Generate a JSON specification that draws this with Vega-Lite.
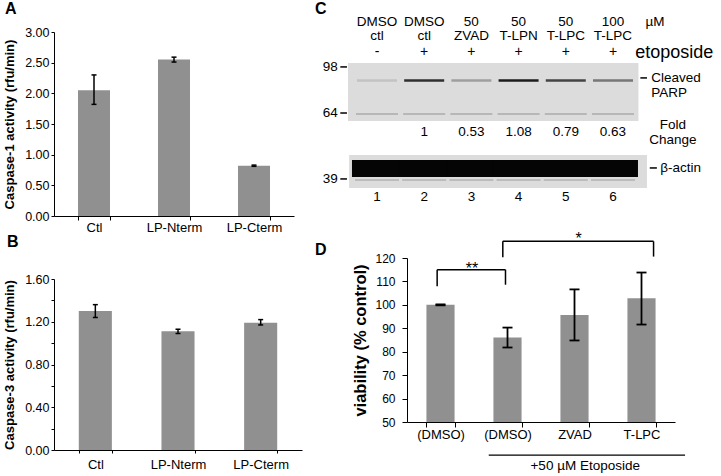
{
  "$schema": "https://vega.github.io/schema/vega-lite/v6.json",
  "padding": {"left": 3, "top": 0, "right": 3, "bottom": 3},
  "config": {
    "font": "Liberation Sans",
    "view": {"stroke": null},
    "axis": {"grid": false, "domainColor": "black", "tickColor": "black", "labelColor": "black", "titleColor": "black", "labelOverlap": false},
    "title": {"fontSize": 16, "fontWeight": "bold", "anchor": "start", "frame": "group", "baseline": "alphabetic", "color": "black"}
  },
  "datasets": {
    "casp1": [
      {"group": "Ctl", "activity": 2.05, "lo": 1.82, "hi": 2.30},
      {"group": "LP-Nterm", "activity": 2.55, "lo": 2.51, "hi": 2.59},
      {"group": "LP-Cterm", "activity": 0.82, "lo": 0.81, "hi": 0.83}
    ],
    "casp3": [
      {"group": "Ctl", "activity": 1.30, "lo": 1.24, "hi": 1.36},
      {"group": "LP-Nterm", "activity": 1.11, "lo": 1.09, "hi": 1.13},
      {"group": "LP-Cterm", "activity": 1.19, "lo": 1.17, "hi": 1.22}
    ],
    "viability": [
      {"group": "(DMSO)", "viability": 100.0, "lo": 99.8, "hi": 100.2},
      {"group": "(DMSO) ", "viability": 86.1, "lo": 81.8, "hi": 90.3},
      {"group": "ZVAD", "viability": 95.7, "lo": 84.8, "hi": 106.6},
      {"group": "T-LPC", "viability": 102.8, "lo": 91.6, "hi": 113.8}
    ],
    "brackets": [
      {"sig": "**", "from": 0.45, "to": 1.47, "top": 115.0, "fromEnd": 107.9, "toEnd": 108.6, "at": 0.97, "labelY": 113.2},
      {"sig": "*", "from": 1.43, "to": 3.68, "top": 127.1, "fromEnd": 120.3, "toEnd": 120.6, "at": 2.56, "labelY": 126.0}
    ],
    "groupLine": [
      {"note": "+50 µM Etoposide", "from": 1.22, "to": 4.15, "lineY": 35.9, "textAt": 2.66, "textY": 29.5}
    ],
    "lanes": [
      {"lane": 1, "dose": "DMSO", "agent": "ctl", "etoposide": "-", "fold": null, "parp": 0.12},
      {"lane": 2, "dose": "DMSO", "agent": "ctl", "etoposide": "+", "fold": 1, "parp": 0.85},
      {"lane": 3, "dose": "50", "agent": "ZVAD", "etoposide": "+", "fold": 0.53, "parp": 0.3},
      {"lane": 4, "dose": "50", "agent": "T-LPN", "etoposide": "+", "fold": 1.08, "parp": 0.95},
      {"lane": 5, "dose": "50", "agent": "T-LPC", "etoposide": "+", "fold": 0.79, "parp": 0.75},
      {"lane": 6, "dose": "100", "agent": "T-LPC", "etoposide": "+", "fold": 0.63, "parp": 0.5}
    ],
    "blots": [
      {"blot": "Cleaved PARP", "from": 0.386, "to": 6.54, "top": 18.9, "bottom": 54.3},
      {"blot": "β-actin", "from": 0.41, "to": 6.72, "top": 75.0, "bottom": 95.1}
    ],
    "markers": [
      {"kDa": 98, "pos": 21.3},
      {"kDa": 64, "pos": 49.4},
      {"kDa": 39, "pos": 89.6}
    ],
    "blotLabels": [
      {"label": "µM", "side": "center", "lx": 6.89, "ly": -6.1},
      {"label": "Fold", "side": "center", "lx": 7.27, "ly": 56.7},
      {"label": "Change", "side": "center", "lx": 7.27, "ly": 65.9},
      {"label": "Cleaved", "side": "left", "lx": 6.81, "ly": 28.0},
      {"label": "PARP", "side": "left", "lx": 6.81, "ly": 37.2},
      {"label": "β-actin", "side": "left", "lx": 7.0, "ly": 82.9}
    ],
    "pointers": [
      {"target": "Cleaved PARP", "from": 6.58, "to": 6.72, "at": 28.0},
      {"target": "β-actin", "from": 6.78, "to": 6.93, "at": 82.9}
    ],
    "treatment": [
      {"label": "etoposide", "lx": 6.47, "ly": 12.5}
    ]
  },
  "spacing": 13,
  "hconcat": [
    {
      "spacing": 0,
      "vconcat": [
        {
          "width": 240,
          "height": 184,
          "title": {"text": "A", "dx": -49, "offset": 9},
          "data": {"name": "casp1"},
          "encoding": {
            "x": {"field": "group", "type": "nominal", "sort": ["Ctl", "LP-Nterm", "LP-Cterm"], "scale": {"paddingInner": 0.6, "paddingOuter": 0.3},
              "axis": {"title": null, "labelAngle": 0, "labelFontSize": 13, "tickBand": "extent", "tickSize": 4, "labelPadding": 1}}
          },
          "layer": [
            {"mark": {"type": "bar", "color": "#909090"},
             "encoding": {"y": {"field": "activity", "type": "quantitative", "title": "Caspase-1 activity (rfu/min)", "scale": {"domain": [0, 3]},
               "axis": {"titleFontSize": 13, "titleFontWeight": "bold", "titlePadding": 8, "values": [0, 0.5, 1, 1.5, 2, 2.5, 3], "tickCount": 20, "format": ".2f", "labelFontSize": 12.5, "tickSize": 3, "labelPadding": 2, "labelOverlap": false}}}},
            {"mark": {"type": "rule", "color": "black", "strokeWidth": 1.5},
             "encoding": {"y": {"field": "lo", "type": "quantitative", "title": "Caspase-1 activity (rfu/min)"}, "y2": {"field": "hi"}}},
            {"mark": {"type": "tick", "color": "black", "opacity": 1, "thickness": 1.5, "size": 5},
             "encoding": {"y": {"field": "hi", "type": "quantitative", "title": "Caspase-1 activity (rfu/min)"}}},
            {"mark": {"type": "tick", "color": "black", "opacity": 1, "thickness": 1.5, "size": 5},
             "encoding": {"y": {"field": "lo", "type": "quantitative", "title": "Caspase-1 activity (rfu/min)"}}}
          ]
        },
        {
          "width": 248,
          "height": 171,
          "title": {"text": "B", "dx": -47, "offset": 23},
          "data": {"name": "casp3"},
          "encoding": {
            "x": {"field": "group", "type": "nominal", "sort": ["Ctl", "LP-Nterm", "LP-Cterm"], "scale": {"paddingInner": 0.6, "paddingOuter": 0.3},
              "axis": {"title": null, "labelAngle": 0, "labelFontSize": 13, "tickBand": "extent", "tickSize": 3, "labelPadding": 5}}
          },
          "layer": [
            {"mark": {"type": "bar", "color": "#909090"},
             "encoding": {"y": {"field": "activity", "type": "quantitative", "title": "Caspase-3 activity (rfu/min)", "scale": {"domain": [0, 1.6]},
               "axis": {"titleFontSize": 13, "titleFontWeight": "bold", "titlePadding": 8, "values": [0, 0.2, 0.4, 0.6, 0.8, 1.0, 1.2, 1.4, 1.6], "tickCount": 20,
                 "labelExpr": "round(datum.value * 10) % 4 == 0 ? format(datum.value, '.2f') : ''", "labelFontSize": 12.5, "tickSize": 3, "labelPadding": 2, "labelOverlap": false}}}},
            {"mark": {"type": "rule", "color": "black", "strokeWidth": 1.5},
             "encoding": {"y": {"field": "lo", "type": "quantitative", "title": "Caspase-3 activity (rfu/min)"}, "y2": {"field": "hi"}}},
            {"mark": {"type": "tick", "color": "black", "opacity": 1, "thickness": 1.5, "size": 5},
             "encoding": {"y": {"field": "hi", "type": "quantitative", "title": "Caspase-3 activity (rfu/min)"}}},
            {"mark": {"type": "tick", "color": "black", "opacity": 1, "thickness": 1.5, "size": 5},
             "encoding": {"y": {"field": "lo", "type": "quantitative", "title": "Caspase-3 activity (rfu/min)"}}}
          ]
        }
      ]
    },
    {
      "spacing": 26,
      "vconcat": [
        {
          "width": 300,
          "height": 164,
          "title": {"text": "C", "dx": -92, "offset": -2},
          "layer": [
            {"data": {"name": "blots"}, "mark": {"type": "rect", "color": "#dcdcdc"},
             "encoding": {
               "x": {"field": "from", "type": "quantitative", "scale": {"domain": [1.636, 7.992], "nice": false, "zero": false}, "axis": null},
               "x2": {"field": "to"},
               "y": {"field": "top", "type": "quantitative", "scale": {"domain": [0, 100], "reverse": true, "nice": false, "zero": false}, "axis": null},
               "y2": {"field": "bottom"}}},
            {"data": {"name": "lanes"}, "mark": {"type": "tick", "orient": "horizontal", "color": "#8a8a8a", "opacity": 0.45, "size": 42, "thickness": 2},
             "encoding": {"x": {"field": "lane", "type": "quantitative"}, "y": {"datum": 50.0, "type": "quantitative"}}},
            {"data": {"name": "lanes"}, "mark": {"type": "tick", "orient": "horizontal", "color": "#8a8a8a", "opacity": 0.5, "size": 44, "thickness": 1.5},
             "encoding": {"x": {"field": "lane", "type": "quantitative"}, "y": {"datum": 90.3, "type": "quantitative"}}},
            {"data": {"name": "lanes"}, "mark": {"type": "tick", "orient": "horizontal", "color": "#111111", "size": 40, "thickness": 2.5},
             "encoding": {"x": {"field": "lane", "type": "quantitative"}, "y": {"datum": 29.5, "type": "quantitative"},
               "opacity": {"field": "parp", "type": "quantitative", "scale": {"domain": [0, 1], "range": [0, 1]}, "legend": null}}},
            {"data": {"name": "lanes"}, "mark": {"type": "tick", "orient": "horizontal", "color": "#050505", "opacity": 1, "size": 50, "thickness": 17},
             "encoding": {"x": {"field": "lane", "type": "quantitative"}, "y": {"datum": 83.2, "type": "quantitative"}}},
            {"data": {"name": "markers"}, "mark": {"type": "rule", "color": "black", "strokeWidth": 1.5},
             "encoding": {"x": {"datum": 0.223, "type": "quantitative"}, "x2": {"datum": 0.364}, "y": {"field": "pos", "type": "quantitative"}}},
            {"data": {"name": "markers"}, "mark": {"type": "text", "align": "right", "baseline": "middle", "fontSize": 13.5},
             "encoding": {"x": {"datum": 0.17, "type": "quantitative"}, "y": {"field": "pos", "type": "quantitative"}, "text": {"field": "kDa", "type": "quantitative", "format": "d"}}},
            {"data": {"name": "lanes"}, "mark": {"type": "text", "align": "center", "baseline": "middle", "fontSize": 13.5},
             "encoding": {"x": {"field": "lane", "type": "quantitative"}, "y": {"datum": -6.1, "type": "quantitative"}, "text": {"field": "dose", "type": "nominal"}}},
            {"data": {"name": "lanes"}, "mark": {"type": "text", "align": "center", "baseline": "middle", "fontSize": 13.5},
             "encoding": {"x": {"field": "lane", "type": "quantitative"}, "y": {"datum": 2.7, "type": "quantitative"}, "text": {"field": "agent", "type": "nominal"}}},
            {"data": {"name": "lanes"}, "mark": {"type": "text", "align": "center", "baseline": "middle", "fontSize": 14},
             "encoding": {"x": {"field": "lane", "type": "quantitative"}, "y": {"datum": 12.2, "type": "quantitative"}, "text": {"field": "etoposide", "type": "nominal"}}},
            {"data": {"name": "lanes"}, "transform": [{"filter": "isValid(datum.fold)"}], "mark": {"type": "text", "align": "center", "baseline": "middle", "fontSize": 13.5},
             "encoding": {"x": {"field": "lane", "type": "quantitative"}, "y": {"datum": 61.0, "type": "quantitative"}, "text": {"field": "fold", "type": "quantitative", "format": ".2~f"}}},
            {"data": {"name": "lanes"}, "mark": {"type": "text", "align": "center", "baseline": "middle", "fontSize": 13.5},
             "encoding": {"x": {"field": "lane", "type": "quantitative"}, "y": {"datum": 100.6, "type": "quantitative"}, "text": {"field": "lane", "type": "quantitative", "format": "d"}}},
            {"data": {"name": "blotLabels"}, "transform": [{"filter": "datum.side == 'center'"}], "mark": {"type": "text", "align": "center", "baseline": "middle", "fontSize": 13.5},
             "encoding": {"x": {"field": "lx", "type": "quantitative"}, "y": {"field": "ly", "type": "quantitative"}, "text": {"field": "label", "type": "nominal"}}},
            {"data": {"name": "blotLabels"}, "transform": [{"filter": "datum.side == 'left'"}], "mark": {"type": "text", "align": "left", "baseline": "middle", "fontSize": 13.5},
             "encoding": {"x": {"field": "lx", "type": "quantitative"}, "y": {"field": "ly", "type": "quantitative"}, "text": {"field": "label", "type": "nominal"}}},
            {"data": {"name": "pointers"}, "mark": {"type": "rule", "color": "black", "strokeWidth": 1.5},
             "encoding": {"x": {"field": "from", "type": "quantitative"}, "x2": {"field": "to"}, "y": {"field": "at", "type": "quantitative"}}},
            {"data": {"name": "treatment"}, "mark": {"type": "text", "align": "left", "baseline": "middle", "fontSize": 18},
             "encoding": {"x": {"field": "lx", "type": "quantitative"}, "y": {"field": "ly", "type": "quantitative"}, "text": {"field": "label", "type": "nominal"}}}
          ]
        },
        {
          "width": 268,
          "height": 164,
          "title": {"text": "D", "dx": -92, "offset": -27},
          "resolve": {"scale": {"x": "independent"}, "axis": {"x": "independent"}},
          "layer": [
            {
              "data": {"name": "viability"},
              "encoding": {
                "x": {"field": "group", "type": "nominal", "sort": ["(DMSO)", "(DMSO) ", "ZVAD", "T-LPC"], "scale": {"paddingInner": 0.58, "paddingOuter": 0.29},
                  "axis": {"title": null, "labelAngle": 0, "labelFontSize": 13, "tickBand": "extent", "tickSize": 5, "labelPadding": 1}}
              },
              "layer": [
                {"mark": {"type": "bar", "color": "#909090"},
                 "encoding": {"y": {"field": "viability", "type": "quantitative", "title": "viability (% control)", "scale": {"domain": [50, 120]},
                   "axis": {"titleFontSize": 16.5, "titleFontWeight": "bold", "titlePadding": 6, "values": [50, 60, 70, 80, 90, 100, 110, 120], "tickCount": 20, "labelFontSize": 12, "tickSize": 5, "labelPadding": 7, "labelOverlap": false}},
                   "y2": {"datum": 50}}},
                {"mark": {"type": "rule", "color": "black", "strokeWidth": 1.8},
                 "encoding": {"y": {"field": "lo", "type": "quantitative", "title": "viability (% control)", "scale": {"domain": [50, 120]}}, "y2": {"field": "hi"}}},
                {"mark": {"type": "tick", "color": "black", "opacity": 1, "thickness": 1.8, "size": 10},
                 "encoding": {"y": {"field": "hi", "type": "quantitative", "title": "viability (% control)", "scale": {"domain": [50, 120]}}}},
                {"mark": {"type": "tick", "color": "black", "opacity": 1, "thickness": 1.8, "size": 10},
                 "encoding": {"y": {"field": "lo", "type": "quantitative", "title": "viability (% control)", "scale": {"domain": [50, 120]}}}}
              ]
            },
            {
              "layer": [
                {"data": {"name": "brackets"}, "mark": {"type": "rule", "color": "black", "strokeWidth": 1.5},
                 "encoding": {"x": {"field": "from", "type": "quantitative", "scale": {"domain": [0, 4], "nice": false, "zero": false}, "axis": null}, "x2": {"field": "to"},
                   "y": {"field": "top", "type": "quantitative", "title": "viability (% control)", "scale": {"domain": [50, 120]}}}},
                {"data": {"name": "brackets"}, "mark": {"type": "rule", "color": "black", "strokeWidth": 1.5},
                 "encoding": {"x": {"field": "from", "type": "quantitative"},
                   "y": {"field": "top", "type": "quantitative", "title": "viability (% control)", "scale": {"domain": [50, 120]}}, "y2": {"field": "fromEnd"}}},
                {"data": {"name": "brackets"}, "mark": {"type": "rule", "color": "black", "strokeWidth": 1.5},
                 "encoding": {"x": {"field": "to", "type": "quantitative"},
                   "y": {"field": "top", "type": "quantitative", "title": "viability (% control)", "scale": {"domain": [50, 120]}}, "y2": {"field": "toEnd"}}},
                {"data": {"name": "brackets"}, "mark": {"type": "text", "align": "center", "baseline": "alphabetic", "fontSize": 16},
                 "encoding": {"x": {"field": "at", "type": "quantitative"},
                   "y": {"field": "labelY", "type": "quantitative", "title": "viability (% control)", "scale": {"domain": [50, 120]}}, "text": {"field": "sig", "type": "nominal"}}},
                {"data": {"name": "groupLine"}, "mark": {"type": "rule", "color": "black", "strokeWidth": 1.2},
                 "encoding": {"x": {"field": "from", "type": "quantitative"}, "x2": {"field": "to"},
                   "y": {"field": "lineY", "type": "quantitative", "title": "viability (% control)", "scale": {"domain": [50, 120]}}}},
                {"data": {"name": "groupLine"}, "mark": {"type": "text", "align": "center", "baseline": "alphabetic", "fontSize": 13.5},
                 "encoding": {"x": {"field": "textAt", "type": "quantitative"},
                   "y": {"field": "textY", "type": "quantitative", "title": "viability (% control)", "scale": {"domain": [50, 120]}}, "text": {"field": "note", "type": "nominal"}}}
              ]
            }
          ]
        }
      ]
    }
  ]
}
